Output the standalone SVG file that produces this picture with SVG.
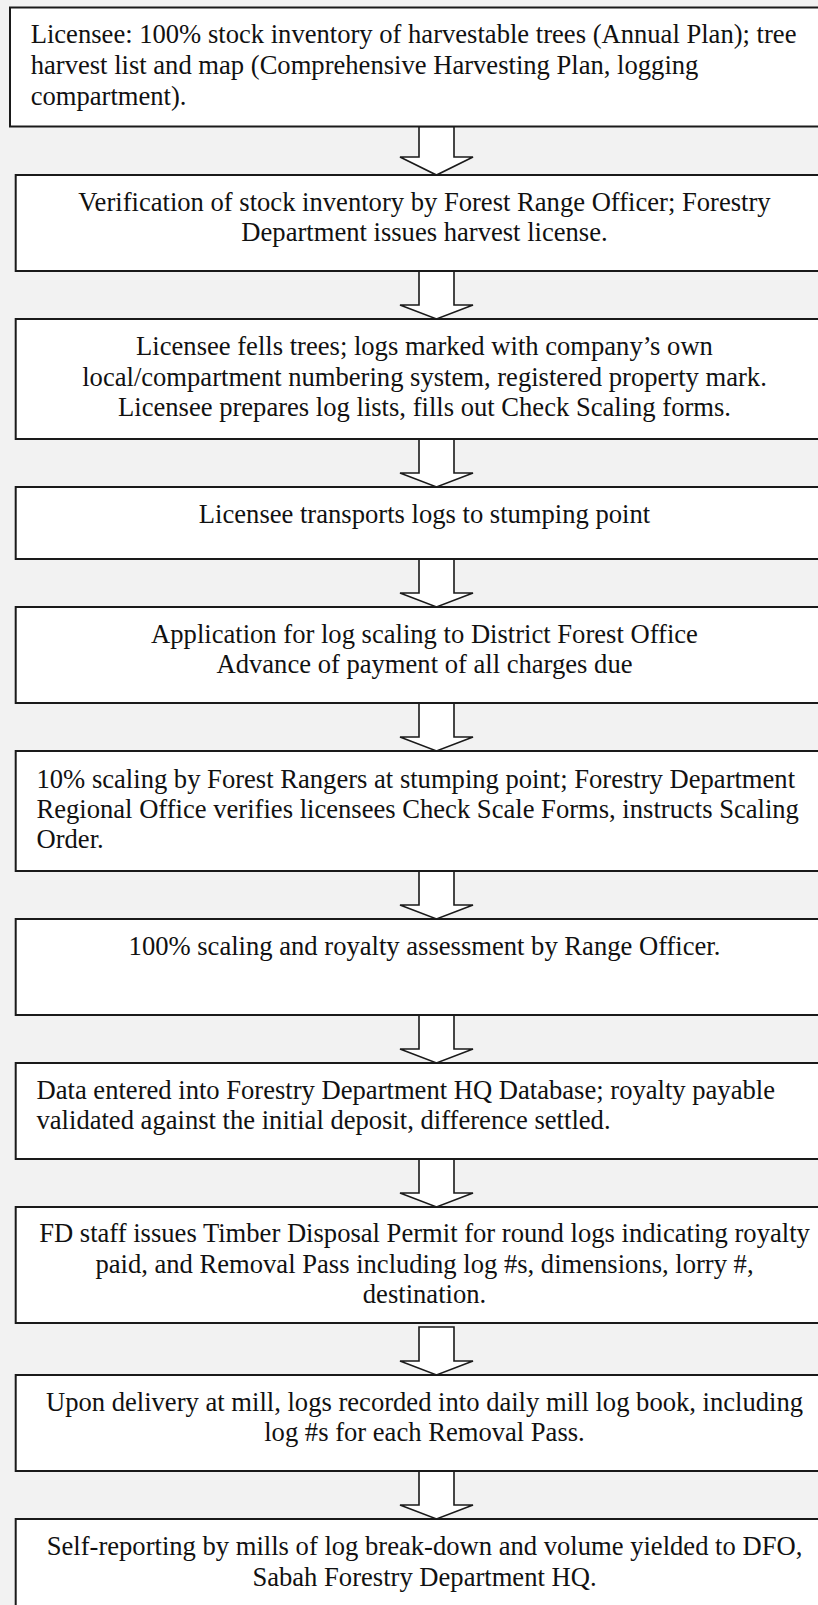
<svg xmlns="http://www.w3.org/2000/svg" width="818" height="1605" viewBox="0 0 818 1605">
  <style>
    .box { fill: #ffffff; stroke: #1a1a1a; stroke-width: 2; }
    .arrow { fill: #ffffff; stroke: #1a1a1a; stroke-width: 1.6; stroke-linejoin: miter; }
    text { font-family: "Liberation Serif", "Times New Roman", serif; font-size: 26.6px; fill: #111111; }
    .c { text-anchor: middle; }
  </style>
  <rect x="0" y="0" width="818" height="1605" fill="#f2f2f2"/>

  <!-- block arrows between steps -->
  <g id="connectors">
    <path class="arrow" d="M419,126.5 L454,126.5 L454,157 L473,157 L436.5,175 L400,157 L419,157 Z"/>
    <path class="arrow" d="M419,271 L454,271 L454,305 L473,305 L436.5,319 L400,305 L419,305 Z"/>
    <path class="arrow" d="M419,439 L454,439 L454,473 L473,473 L436.5,487 L400,473 L419,473 Z"/>
    <path class="arrow" d="M419,559 L454,559 L454,593 L473,593 L436.5,607 L400,593 L419,593 Z"/>
    <path class="arrow" d="M419,703 L454,703 L454,737 L473,737 L436.5,751 L400,737 L419,737 Z"/>
    <path class="arrow" d="M419,871 L454,871 L454,905 L473,905 L436.5,919 L400,905 L419,905 Z"/>
    <path class="arrow" d="M419,1015 L454,1015 L454,1049 L473,1049 L436.5,1063 L400,1049 L419,1049 Z"/>
    <path class="arrow" d="M419,1159 L454,1159 L454,1193 L473,1193 L436.5,1207 L400,1193 L419,1193 Z"/>
    <path class="arrow" d="M419,1327 L454,1327 L454,1361 L473,1361 L436.5,1375 L400,1361 L419,1361 Z"/>
    <path class="arrow" d="M419,1471 L454,1471 L454,1505 L473,1505 L436.5,1519 L400,1505 L419,1505 Z"/>
  </g>

  <g id="step1">
    <rect class="box" x="10" y="7.5" width="830" height="119"/>
    <text x="30.7" y="43.3">Licensee: 100% stock inventory of harvestable trees (Annual Plan); tree</text>
    <text x="30.7" y="74">harvest list and map (Comprehensive Harvesting Plan, logging</text>
    <text x="30.7" y="104.5">compartment).</text>
  </g>

  <g id="step2">
    <rect class="box" x="15.7" y="175" width="825" height="96"/>
    <text class="c" x="424.5" y="210.5">Verification of stock inventory by Forest Range Officer; Forestry</text>
    <text class="c" x="424.5" y="241.3">Department issues harvest license.</text>
  </g>

  <g id="step3">
    <rect class="box" x="15.7" y="319" width="825" height="120"/>
    <text class="c" x="424.5" y="355">Licensee fells trees; logs marked with company’s own</text>
    <text class="c" x="424.5" y="385.6">local/compartment numbering system, registered property mark.</text>
    <text class="c" x="424.5" y="416.2">Licensee prepares log lists, fills out Check Scaling forms.</text>
  </g>

  <g id="step4">
    <rect class="box" x="15.7" y="487" width="825" height="72"/>
    <text class="c" x="424.5" y="523">Licensee transports logs to stumping point</text>
  </g>

  <g id="step5">
    <rect class="box" x="15.7" y="607" width="825" height="96"/>
    <text class="c" x="424.5" y="642.7">Application for log scaling to District Forest Office</text>
    <text class="c" x="424.5" y="673.3">Advance of payment of all charges due</text>
  </g>

  <g id="step6">
    <rect class="box" x="15.7" y="751" width="825" height="120"/>
    <text x="36.5" y="787.5">10% scaling by Forest Rangers at stumping point; Forestry Department</text>
    <text x="36.5" y="818">Regional Office verifies licensees Check Scale Forms, instructs Scaling</text>
    <text x="36.5" y="848.3">Order.</text>
  </g>

  <g id="step7">
    <rect class="box" x="15.7" y="919" width="825" height="96"/>
    <text class="c" x="424.5" y="955">100% scaling and royalty assessment by Range Officer.</text>
  </g>

  <g id="step8">
    <rect class="box" x="15.7" y="1063" width="825" height="96"/>
    <text x="36.5" y="1098.5">Data entered into Forestry Department HQ Database; royalty payable</text>
    <text x="36.5" y="1129">validated against the initial deposit, difference settled.</text>
  </g>

  <g id="step9">
    <rect class="box" x="15.7" y="1207" width="825" height="116"/>
    <text class="c" x="424.5" y="1242">FD staff issues Timber Disposal Permit for round logs indicating royalty</text>
    <text class="c" x="424.5" y="1272.5">paid, and Removal Pass including log #s, dimensions, lorry #,</text>
    <text class="c" x="424.5" y="1303">destination.</text>
  </g>

  <g id="step10">
    <rect class="box" x="15.7" y="1375" width="825" height="96"/>
    <text class="c" x="424.5" y="1410.5">Upon delivery at mill, logs recorded into daily mill log book, including</text>
    <text class="c" x="424.5" y="1441">log #s for each Removal Pass.</text>
  </g>

  <g id="step11">
    <rect class="box" x="15.7" y="1519" width="825" height="100"/>
    <text class="c" x="424.5" y="1555">Self-reporting by mills of log break-down and volume yielded to DFO,</text>
    <text class="c" x="424.5" y="1585.5">Sabah Forestry Department HQ.</text>
  </g>
</svg>
